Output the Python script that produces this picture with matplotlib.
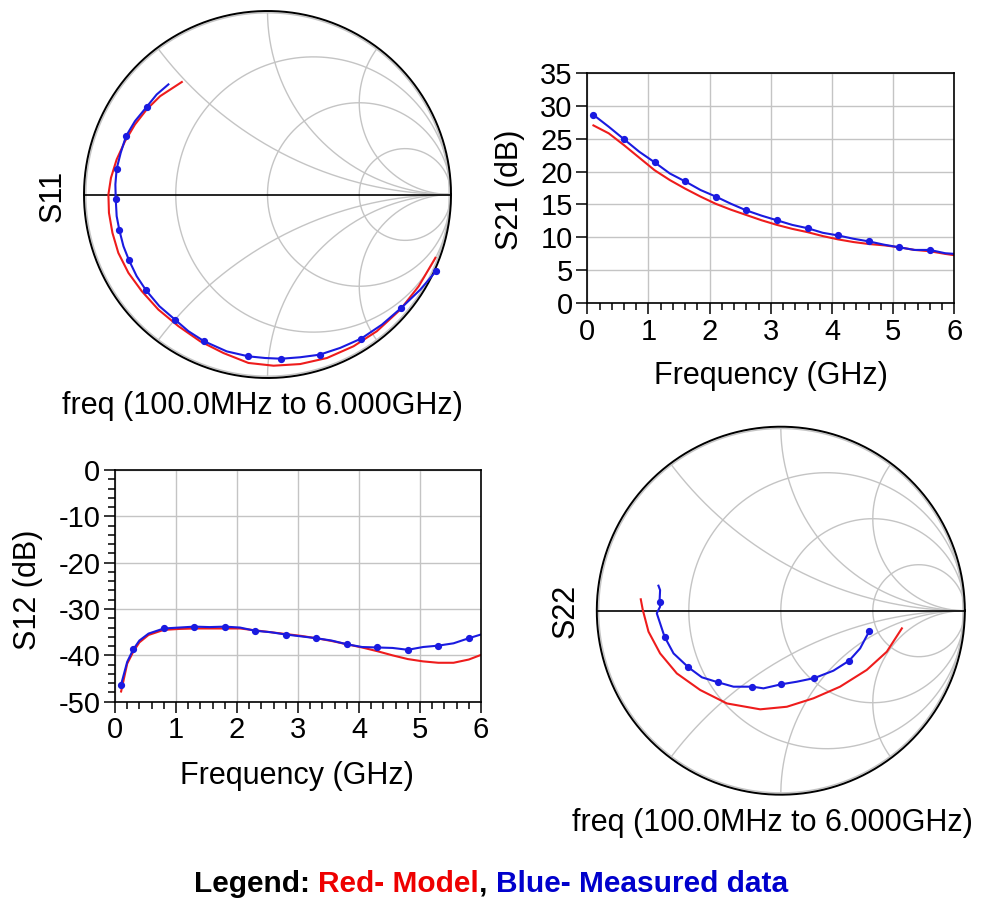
import numpy as np
import matplotlib
matplotlib.use("Agg")
import matplotlib.pyplot as plt
from matplotlib.patches import Circle
from matplotlib.ticker import MultipleLocator

plt.rcParams['font.family'] = ['Liberation Sans', 'DejaVu Sans']
plt.rcParams['axes.unicode_minus'] = False

# Smith chart grid values
r_circles = [1/3, 1, 3]
x_arcs = [0.5, 1, 2]

# S11 (reflection coefficient, real / imag)
s11_model_re = [-0.467, -0.585, -0.658, -0.722, -0.776, -0.822, -0.853, -0.867, -0.864, -0.845, -0.813, -0.758, -0.685,
                -0.595, -0.485, -0.367, -0.24, -0.104, 0.033, 0.178, 0.324, 0.469, 0.596, 0.724, 0.824, 0.915]
s11_model_im = [0.613, 0.536, 0.464, 0.382, 0.291, 0.191, 0.091, 0.0, -0.1, -0.209, -0.318, -0.427, -0.527,
                -0.627, -0.718, -0.8, -0.864, -0.918, -0.933, -0.924, -0.891, -0.827, -0.745, -0.627, -0.5, -0.345]
s11_meas_re = [-0.54, -0.604, -0.658, -0.722, -0.771, -0.8, -0.822, -0.829, -0.827, -0.822, -0.807, -0.785, -0.755,
               -0.713, -0.662, -0.589, -0.504, -0.431, -0.345, -0.222, -0.104, -0.013, 0.075, 0.178, 0.284, 0.396,
               0.511, 0.624, 0.729, 0.833, 0.918]
s11_meas_im = [0.6, 0.545, 0.478, 0.4, 0.318, 0.227, 0.14, 0.055, -0.027, -0.118, -0.196, -0.282, -0.358,
               -0.445, -0.522, -0.609, -0.682, -0.745, -0.8, -0.855, -0.882, -0.891, -0.895, -0.887, -0.873, -0.836,
               -0.785, -0.709, -0.618, -0.518, -0.418]
s11_marks = list(range(2, 31, 2))

# S22
s22_model_re = [-0.761, -0.75, -0.719, -0.656, -0.565, -0.438, -0.293, -0.112, 0.033, 0.178, 0.322, 0.467, 0.576, 0.658]
s22_model_im = [0.062, 0.004, -0.114, -0.232, -0.341, -0.431, -0.504, -0.536, -0.522, -0.476, -0.413, -0.322, -0.223, -0.096]
s22_meas_re = [-0.665, -0.656, -0.659, -0.656, -0.674, -0.632, -0.583, -0.502, -0.429, -0.342, -0.257, -0.154, -0.094,
               0.002, 0.087, 0.183, 0.286, 0.371, 0.431, 0.482]
s22_meas_im = [0.136, 0.112, 0.049, 0.022, -0.014, -0.141, -0.232, -0.308, -0.362, -0.389, -0.413, -0.413, -0.422,
               -0.4, -0.386, -0.366, -0.326, -0.272, -0.205, -0.109]
s22_marks = [2, 5, 7, 9, 11, 13, 15, 17, 19]

# S21 (dB)
f21 = [0.1, 0.35, 0.6, 0.85, 1.1, 1.35, 1.6, 1.85, 2.1, 2.35, 2.6, 2.85, 3.1, 3.35, 3.6, 3.85, 4.1, 4.35, 4.6, 4.85,
       5.1, 5.35, 5.6, 5.85, 6.0]
s21_meas = [28.6, 26.8, 24.9, 23.0, 21.4, 19.7, 18.5, 17.2, 16.2, 15.1, 14.1, 13.3, 12.6, 11.9, 11.4, 10.7, 10.3, 9.8,
            9.4, 8.9, 8.5, 8.1, 8.1, 7.6, 7.5]
s21_model = [27.0, 25.8, 24.0, 22.1, 20.2, 18.7, 17.4, 16.2, 15.1, 14.2, 13.4, 12.6, 11.9, 11.3, 10.8, 10.2, 9.7, 9.3,
             9.0, 8.8, 8.5, 8.1, 7.9, 7.5, 7.3]
s21_marks = list(range(0, 23, 2))

# S12 (dB)
f12 = [0.1, 0.2, 0.3, 0.4, 0.55, 0.8, 1.05, 1.3, 1.55, 1.8, 2.05, 2.3, 2.55, 2.8, 3.05, 3.3, 3.55, 3.8, 4.05, 4.3,
       4.55, 4.8, 5.05, 5.3, 5.55, 5.8, 6.0]
s12_meas = [-46.3, -41.4, -38.7, -36.8, -35.3, -34.2, -34.0, -33.8, -33.9, -33.8, -34.0, -34.7, -35.0, -35.5, -35.9,
            -36.3, -36.8, -37.6, -38.2, -38.3, -38.4, -38.8, -38.2, -37.9, -37.4, -36.3, -35.5]
s12_model = [-47.8, -41.8, -39.2, -37.2, -35.6, -34.5, -34.3, -34.2, -34.2, -34.2, -34.2, -34.6, -35.0, -35.4, -35.8,
             -36.3, -36.9, -37.6, -38.3, -39.1, -40.0, -40.8, -41.3, -41.6, -41.6, -40.9, -39.9]
s12_marks = [0, 2, 5, 7, 9, 11, 13, 15, 17, 19, 21, 23, 25]

RED = '#ee1c1c'
BLUE = '#1a1ae0'
GRID = '#c4c4c4'
FS = 21      # tick labels
LFS = 22     # axis / sweep labels

W, H = 984, 923
fig = plt.figure(figsize=(W / 100, H / 100), dpi=100)


def smith(cx, cy, R):
    L = 1.03
    ax = fig.add_axes([(cx - R * L) / W, 1 - (cy + R * L) / H, 2 * R * L / W, 2 * R * L / H])
    ax.set_xlim(-L, L)
    ax.set_ylim(-L, L)
    ax.axis('off')
    t = np.linspace(0, 2 * np.pi, 500)
    clip = Circle((0, 0), 0.99, transform=ax.transData, fc='none', ec='none')
    ax.add_patch(clip)
    for r in r_circles:
        c, rad = r / (1 + r), 1 / (1 + r)
        ax.plot(c + rad * np.cos(t), rad * np.sin(t), color=GRID, lw=1)
    for x in x_arcs:
        for s in (1, -1):
            line, = ax.plot(1 + np.cos(t) / x, s / x + np.sin(t) / x, color=GRID, lw=1)
            line.set_clip_path(clip)
    ax.plot(0.99 * np.cos(t), 0.99 * np.sin(t), color=GRID, lw=1)
    ax.plot(np.cos(t), np.sin(t), color='black', lw=1.4)
    ax.plot([-1, 1], [0, 0], color='black', lw=1.2)
    return ax


def rect_axes(x0, x1, y0, y1):
    ax = fig.add_axes([x0 / W, 1 - y1 / H, (x1 - x0) / W, (y1 - y0) / H])
    ax.grid(True, color=GRID, lw=1)
    ax.set_axisbelow(True)
    for sp in ax.spines.values():
        sp.set_color('black')
        sp.set_linewidth(1.2)
    ax.tick_params(which='major', direction='out', length=8, width=1.1, labelsize=FS, pad=2.5)
    ax.tick_params(which='minor', direction='out', length=5, width=1.1)
    ax.set_xlim(0, 6)
    ax.set_xticks(range(7))
    ax.xaxis.set_minor_locator(MultipleLocator(0.2))
    return ax


# S11
ax = smith(267.5, 194.5, 183.5)
ax.plot(s11_model_re, s11_model_im, color=RED, lw=1.5)
ax.plot(s11_meas_re, s11_meas_im, color=BLUE, lw=1.5, marker='o', ms=4.2, markevery=s11_marks)
fig.text(53 / W, 1 - 196 / H, 'S11', rotation=90, ha='center', va='center', fontsize=LFS)
fig.text(262 / W, 1 - 406 / H, 'freq (100.0MHz to 6.000GHz)', ha='center', va='center', fontsize=LFS)

# S22
ax = smith(780.8, 610.7, 184)
ax.plot(s22_model_re, s22_model_im, color=RED, lw=1.5)
ax.plot(s22_meas_re, s22_meas_im, color=BLUE, lw=1.5, marker='o', ms=4.2, markevery=s22_marks)
fig.text(566 / W, 1 - 611 / H, 'S22', rotation=90, ha='center', va='center', fontsize=LFS)
fig.text(772 / W, 1 - 823 / H, 'freq (100.0MHz to 6.000GHz)', ha='center', va='center', fontsize=LFS)

# S21
ax = rect_axes(587.3, 954.3, 72.7, 303.3)
ax.plot(f21, s21_model, color=RED, lw=1.5)
ax.plot(f21, s21_meas, color=BLUE, lw=1.5, marker='o', ms=4.2, markevery=s21_marks)
ax.set_ylim(0, 35)
ax.set_yticks(range(0, 36, 5))
fig.text(510 / W, 1 - 190 / H, 'S21 (dB)', rotation=90, ha='center', va='center', fontsize=LFS)
fig.text(771 / W, 1 - 376 / H, 'Frequency (GHz)', ha='center', va='center', fontsize=LFS)

# S12
ax = rect_axes(115, 481, 470, 701.7)
ax.plot(f12, s12_model, color=RED, lw=1.5)
ax.plot(f12, s12_meas, color=BLUE, lw=1.5, marker='o', ms=4.2, markevery=s12_marks)
ax.set_ylim(-50, 0)
ax.set_yticks(range(-50, 1, 10))
ax.yaxis.set_minor_locator(MultipleLocator(2))
fig.text(28 / W, 1 - 590 / H, 'S12 (dB)', rotation=90, ha='center', va='center', fontsize=LFS)
fig.text(297 / W, 1 - 776 / H, 'Frequency (GHz)', ha='center', va='center', fontsize=LFS)

# legend line made of coloured pieces
parts = [('Legend', 'black'), (': ', 'black'), ('Red- Model', '#ee0000'), (', ', 'black'),
         ('Blue- Measured data', '#0000cc')]
renderer = fig.canvas.get_renderer()
texts = [fig.text(0, 1 - 884 / H, s, color=c, fontsize=21.5, fontweight='bold', ha='left', va='center')
         for s, c in parts]
widths = [t.get_window_extent(renderer).width for t in texts]
x = 491 - sum(widths) / 2
for t, w in zip(texts, widths):
    t.set_x(x / W)
    x += w

fig.savefig('out.png', dpi=100)
